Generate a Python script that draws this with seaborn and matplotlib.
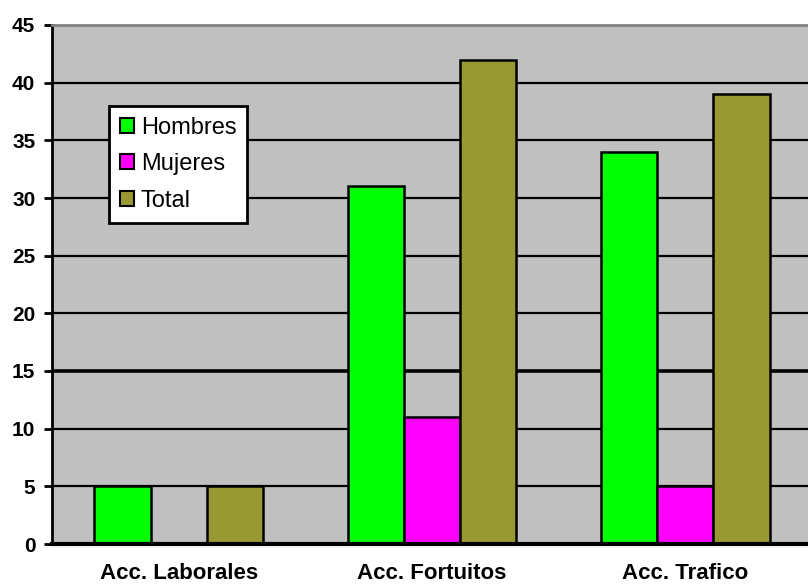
import matplotlib
matplotlib.use("Agg")
import matplotlib.pyplot as plt
from matplotlib.patches import Patch
from matplotlib.ticker import FixedLocator
import seaborn as sns
import pandas as pd

categories = ["Acc. Laborales", "Acc. Fortuitos", "Acc. Trafico"]
series = ["Hombres", "Mujeres", "Total"]
hombres = [5, 31, 34]
mujeres = [0, 11, 5]
total = [5, 42, 39]
y_ticks = [0, 5, 10, 15, 20, 25, 30, 35, 40, 45]
colors = ["#00FF00", "#FF00FF", "#999933"]

df = pd.DataFrame({
    "categoria": categories * 3,
    "serie": [s for s in series for _ in categories],
    "valor": hombres + mujeres + total,
})

sns.set_theme(style="white")
plt.rcParams["font.family"] = ["Liberation Sans", "DejaVu Sans"]
plt.rcParams["text.color"] = "black"
plt.rcParams["xtick.color"] = "black"
plt.rcParams["ytick.color"] = "black"
plt.rcParams["xtick.labelcolor"] = "black"
plt.rcParams["ytick.labelcolor"] = "black"

fig = plt.figure(figsize=(8.08, 5.88), dpi=100)
ax = fig.add_axes([52 / 808, 1 - 544 / 588, 760 / 808, 519 / 588])
ax.set_facecolor("#C0C0C0")

sns.barplot(data=df, x="categoria", y="valor", hue="serie", order=categories,
            hue_order=series, palette=colors, width=0.665, gap=0,
            edgecolor="black", linewidth=1.8, saturation=1, legend=False,
            ax=ax, zorder=3)

ax.set_xlim(-0.5, 2.5)
ax.set_ylim(0, 45)
ax.set_yticks(y_ticks)
ax.set_yticklabels([str(t) for t in y_ticks], fontsize=15, fontweight="bold")
for t in y_ticks[1:-1]:
    ax.axhline(t, color="black", lw=2.6 if t == 15 else 1.6, zorder=1)

ax.set_xticks(range(len(categories)))
ax.set_xticklabels(categories, fontsize=16, fontweight="bold")
ax.xaxis.set_minor_locator(FixedLocator([0.5, 1.5]))
ax.tick_params(axis="x", which="major", length=0, pad=14)
ax.tick_params(axis="x", which="minor", length=4, width=1.2, direction="in", color="black")
ax.tick_params(axis="y", which="major", length=6, width=2, direction="out",
               color="black", pad=6, left=True)
ax.set_xlabel("")
ax.set_ylabel("")

ax.spines["left"].set_color("black")
ax.spines["left"].set_linewidth(2)
ax.spines["bottom"].set_color("black")
ax.spines["bottom"].set_linewidth(3)
ax.spines["top"].set_color("#808080")
ax.spines["top"].set_linewidth(2)
ax.spines["right"].set_visible(False)
for sp in ax.spines.values():
    sp.set_zorder(5)

handles = [Patch(facecolor=c, edgecolor="black", linewidth=1.5, label=s)
           for c, s in zip(colors, series)]
leg = ax.legend(handles=handles, loc="upper left",
                bbox_to_anchor=(109 / 808, 1 - 106 / 588),
                bbox_transform=fig.transFigure, borderaxespad=0,
                fontsize=17, frameon=True, fancybox=False, framealpha=1,
                edgecolor="black", handlelength=0.6, handleheight=0.6,
                handletextpad=0.3, labelspacing=0.62, borderpad=0.45)
leg.get_frame().set_linewidth(2)
leg.set_zorder(10)
for txt in leg.get_texts():
    txt.set_color("black")

fig.savefig("out.png", dpi=100)
